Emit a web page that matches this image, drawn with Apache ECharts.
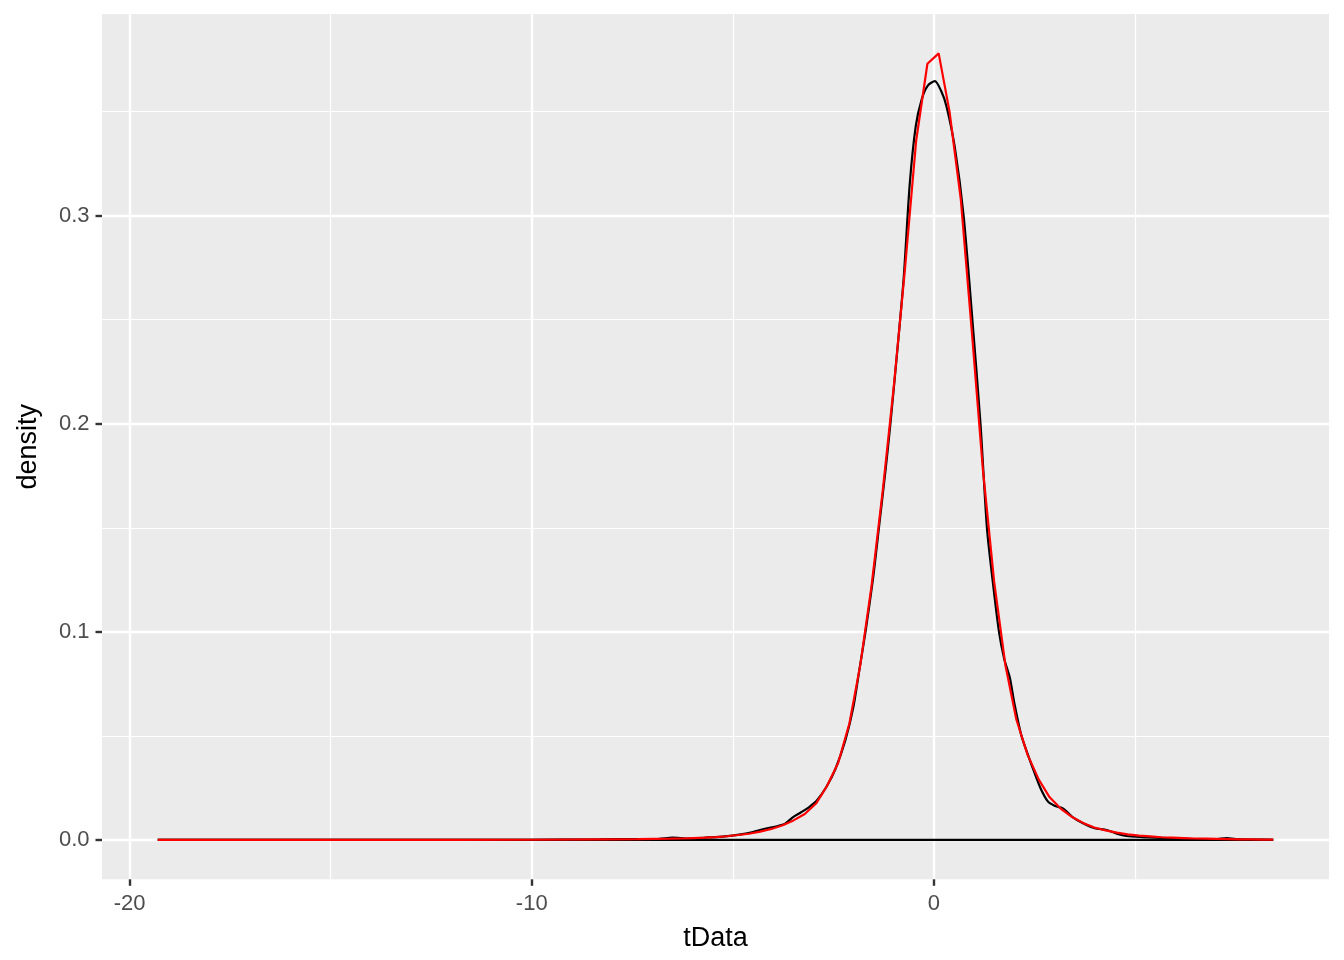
<!DOCTYPE html>
<html>
<head>
<meta charset="utf-8">
<script src="https://cdn.jsdelivr.net/npm/echarts@6/dist/echarts.min.js"></script>
<style>
html,body{margin:0;padding:0;background:#ffffff;}
#chart{width:1344px;height:960px;}
</style>
</head>
<body>
<div id="chart"></div>
<script>
// Empirical kernel density of tData (black outline)
const densityX = [-19.30,-15,-12,-10,-8.3,-7.5,-6.9,-6.5,-6.1,-5.6,-5.2,-4.8,-4.5,-4.2,-3.9,-3.7,-3.5,-3.3,-3.1,-2.9,-2.67,-2.45,-2.2,-2.0,-1.85,-1.70,-1.51,-1.36,-1.2,-1.08,-0.9,-0.75,-0.6,-0.45,-0.3,-0.15,0.025,0.18,0.315,0.52,0.74,0.95,1.16,1.32,1.46,1.62,1.75,1.89,2.0,2.18,2.47,2.65,2.84,3.0,3.22,3.45,3.71,4.0,4.3,4.55,4.79,5.2,5.8,6.5,7.0,7.28,7.6,8.0,8.44];
const densityY = [0.00002,0.00002,0.00005,0.0001,0.0003,0.0004,0.0004,0.0011,0.0007,0.0012,0.0017,0.0027,0.0038,0.0054,0.0066,0.0078,0.0110,0.0133,0.0158,0.0192,0.0256,0.034,0.048,0.064,0.082,0.100,0.126,0.151,0.178,0.200,0.237,0.270,0.315,0.343,0.356,0.3625,0.3646,0.360,0.3525,0.333,0.300,0.252,0.200,0.150,0.125,0.100,0.087,0.078,0.066,0.050,0.034,0.025,0.0184,0.0165,0.0150,0.011,0.0080,0.0056,0.0048,0.0030,0.0019,0.0014,0.0009,0.0004,0.0004,0.0009,0.0003,0.0002,0.0001];
// Bottom edge of the density polygon
const baseX = [-19.30, 8.44];
const baseY = [0, 0];
// Theoretical density curve (red)
const fitX = [-19.30,-15.0,-12.0,-10.0,-8.2,-7.37,-6.54,-6.26,-5.98,-5.71,-5.43,-5.15,-4.87,-4.60,-4.32,-4.04,-3.76,-3.49,-3.21,-2.93,-2.66,-2.38,-2.10,-1.83,-1.55,-1.27,-0.99,-0.72,-0.44,-0.16,0.12,0.39,0.67,0.95,1.22,1.50,1.78,2.05,2.33,2.61,2.88,3.16,3.44,3.71,3.99,4.27,4.55,4.82,5.10,5.38,5.66,5.93,6.21,6.49,6.76,7.04,7.32,7.60,7.87,8.15,8.44];
const fitY = [0.00001,0.00002,0.00005,0.0001,0.0003,0.0004,0.0006,0.0007,0.0009,0.0011,0.0014,0.0018,0.0024,0.0030,0.0040,0.0053,0.0071,0.0094,0.0125,0.0175,0.0258,0.037,0.056,0.084,0.122,0.168,0.219,0.274,0.336,0.373,0.378,0.350,0.308,0.243,0.178,0.124,0.084,0.058,0.041,0.029,0.0205,0.0150,0.0110,0.0082,0.0060,0.0046,0.0035,0.0027,0.0021,0.0017,0.0013,0.0011,0.0009,0.0007,0.0006,0.0005,0.0004,0.0003,0.0003,0.0002,0.0002];
// Axis ticks
const xMajor = [-20, -10, 0];
const xMinor = [-15, -5, 5];
const yMajor = [0, 0.1, 0.2, 0.3];
const yMinor = [0.05, 0.15, 0.25, 0.35];
const xRange = [-20.687, 9.827];
const yRange = [-0.0189, 0.3969];

const zip = (xs, ys) => xs.map((x, i) => [x, ys[i]]);
const FONT = '"Liberation Sans", Arial, Helvetica, sans-serif';

const chart = echarts.init(document.getElementById('chart'), null, {renderer: 'canvas'});
const option = {
  animation: false,
  backgroundColor: '#ffffff',
  grid: {left: 102, right: 15, top: 14, bottom: 80.7, show: true, backgroundColor: '#EBEBEB', borderWidth: 0},
  xAxis: [
    {
      type: 'value', min: xRange[0], max: xRange[1],
      name: 'tData', nameLocation: 'middle', nameGap: 46,
      nameTextStyle: {fontFamily: FONT, fontSize: 27, color: '#000000'},
      axisLine: {show: false, onZero: false},
      axisTick: {show: true, length: 6.5, lineStyle: {color: '#333333', width: 2.4}, customValues: xMajor},
      axisLabel: {show: true, customValues: xMajor, margin: 14, fontFamily: FONT, fontSize: 22, color: '#4D4D4D',
        formatter: v => String(v)},
      splitLine: {show: true, lineStyle: {color: '#ffffff', width: 2.4}}
    },
    {
      type: 'value', min: xRange[0], max: xRange[1], position: 'bottom',
      axisLine: {show: false, onZero: false},
      axisTick: {show: false, customValues: xMinor},
      axisLabel: {show: false, customValues: xMinor},
      splitLine: {show: true, lineStyle: {color: '#ffffff', width: 1.2}}
    }
  ],
  yAxis: [
    {
      type: 'value', min: yRange[0], max: yRange[1],
      name: 'density', nameLocation: 'middle', nameGap: 60, nameRotate: 90,
      nameTextStyle: {fontFamily: FONT, fontSize: 27, color: '#000000'},
      axisLine: {show: false, onZero: false},
      axisTick: {show: true, length: 6.5, lineStyle: {color: '#333333', width: 2.4}, customValues: yMajor},
      axisLabel: {show: true, customValues: yMajor, margin: 12.5, fontFamily: FONT, fontSize: 22, color: '#4D4D4D',
        formatter: v => v.toFixed(1)},
      splitLine: {show: true, lineStyle: {color: '#ffffff', width: 2.4}}
    },
    {
      type: 'value', min: yRange[0], max: yRange[1], position: 'left',
      axisLine: {show: false, onZero: false},
      axisTick: {show: false, customValues: yMinor},
      axisLabel: {show: false, customValues: yMinor},
      splitLine: {show: true, lineStyle: {color: '#ffffff', width: 1.2}}
    }
  ],
  series: [
    {
      type: 'line', name: 'density', xAxisIndex: 0, yAxisIndex: 0,
      data: zip(densityX, densityY), showSymbol: false, smooth: 0.25,
      lineStyle: {color: '#000000', width: 2.2}, z: 3
    },
    {
      type: 'line', name: 'base', xAxisIndex: 0, yAxisIndex: 0,
      data: zip(baseX, baseY), showSymbol: false,
      lineStyle: {color: '#000000', width: 2.2}, z: 3
    },
    {
      type: 'line', name: 'fit', xAxisIndex: 0, yAxisIndex: 0,
      data: zip(fitX, fitY), showSymbol: false, smooth: false,
      lineStyle: {color: '#FF0000', width: 2.2}, z: 4
    }
  ]
};
chart.setOption(option);
</script>
</body>
</html>
